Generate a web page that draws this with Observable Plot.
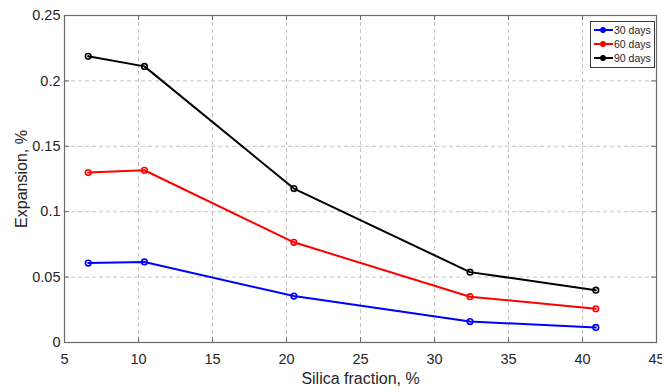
<!DOCTYPE html>
<html>
<head>
<meta charset="utf-8">
<script src="https://cdn.jsdelivr.net/npm/d3@7"></script>
<script src="https://cdn.jsdelivr.net/npm/@observablehq/plot@0.6"></script>
<style>
  html, body { margin: 0; padding: 0; background: #fff; }
  #wrap { position: relative; width: 662px; height: 390px; font-family: "Liberation Sans", Arial, sans-serif; }
  #legend {
    position: absolute; left: 590px; top: 21px;
    border: 1px solid #3a3a3a; background: #fff; padding: 1px 3px 2px 1px;
    font-size: 10.5px; color: #262626; white-space: nowrap;
  }
  #legend .row { display: flex; align-items: center; height: 14px; }
  #legend svg { display: block; margin-right: 0px; }
</style>
</head>
<body>
<div id="wrap"></div>
<script>
// Silica fraction (%) at which expansion was measured
const silica = [6.6, 10.4, 20.5, 32.4, 40.9];
// Expansion (%) after each curing age
const exp30 = [0.0607, 0.0616, 0.0355, 0.0160, 0.0115];
const exp60 = [0.1299, 0.1317, 0.0766, 0.0350, 0.0258];
const exp90 = [0.2188, 0.2111, 0.1177, 0.0538, 0.0400];

const seriesNames = ["30 days", "60 days", "90 days"];
const seriesColors = ["#0000ff", "#ff0000", "#000000"];
const seriesValues = [exp30, exp60, exp90];

const xTicks = [5, 10, 15, 20, 25, 30, 35, 40, 45];
const yTicks = [0, 0.05, 0.1, 0.15, 0.2, 0.25];
const yTickLabels = ["0", "0.05", "0.1", "0.15", "0.2", "0.25"];

const rows = seriesNames.flatMap((name, i) =>
  silica.map((x, j) => ({x, y: seriesValues[i][j], series: name}))
);

const W = 662, H = 390;
const mL = 64, mR = 6, mT = 15, mB = 48;
const plotW = W - mL - mR, plotH = H - mT - mB;
const tickLen = 5;

const axisColor = "#6a6a6a";
const textColor = "#262626";
const gridStyle = {stroke: "#c4c4c4", strokeOpacity: 1, strokeDasharray: "4,3"};

const chart = Plot.plot({
  width: W,
  height: H,
  marginLeft: mL,
  marginRight: mR,
  marginTop: mT,
  marginBottom: mB,
  style: {fontFamily: "'Liberation Sans', Arial, sans-serif", fontSize: "14.5px", color: textColor, background: "#fff"},
  x: {domain: [5, 45]},
  y: {domain: [0, 0.25]},
  color: {domain: seriesNames, range: seriesColors},
  marks: [
    Plot.gridX(xTicks, gridStyle),
    Plot.gridY(yTicks, gridStyle),
    Plot.axisX(xTicks, {
      anchor: "bottom", tickSize: 0, tickPadding: 11, fill: textColor, fontSize: 14.5,
      label: null
    }),
    Plot.axisY(yTicks, {
      anchor: "left", tickSize: 0, tickPadding: 4, fill: textColor, fontSize: 14.5,
      tickFormat: (d, i) => yTickLabels[i],
      label: null
    }),
    // axis titles
    Plot.text(["Silica fraction, %"], {
      frameAnchor: "bottom", lineAnchor: "middle", textAnchor: "middle", dy: 36, fontSize: 16, fill: textColor
    }),
    Plot.text(["Expansion, %"], {
      frameAnchor: "left", lineAnchor: "middle", textAnchor: "middle", dx: -43, rotate: -90, fontSize: 16, fill: textColor
    }),
    // short inward tick marks on all four sides of the box
    Plot.tickX(xTicks, {x: d => d, insetTop: plotH - tickLen, stroke: axisColor}),
    Plot.tickX(xTicks, {x: d => d, insetBottom: plotH - tickLen, stroke: axisColor}),
    Plot.tickY(yTicks, {y: d => d, insetRight: plotW - tickLen, stroke: axisColor}),
    Plot.tickY(yTicks, {y: d => d, insetLeft: plotW - tickLen, stroke: axisColor}),
    Plot.frame({stroke: axisColor, strokeWidth: 1.2}),
    Plot.line(rows, {x: "x", y: "y", z: "series", stroke: "series", strokeWidth: 2}),
    Plot.dot(rows, {x: "x", y: "y", stroke: "series", fill: "none", r: 2.8, strokeWidth: 1.6})
  ]
});
document.getElementById("wrap").appendChild(chart);

// Legend box
const legend = document.createElement("div");
legend.id = "legend";
seriesNames.forEach((name, i) => {
  const row = document.createElement("div");
  row.className = "row";
  row.innerHTML =
    `<svg width="22" height="10"><line x1="2" x2="21" y1="5" y2="5" stroke="${seriesColors[i]}" stroke-width="2"/>` +
    `<circle cx="11" cy="5" r="2.6" fill="${seriesColors[i]}" stroke="${seriesColors[i]}"/></svg><span>${name}</span>`;
  legend.appendChild(row);
});
document.getElementById("wrap").appendChild(legend);
</script>
</body>
</html>
